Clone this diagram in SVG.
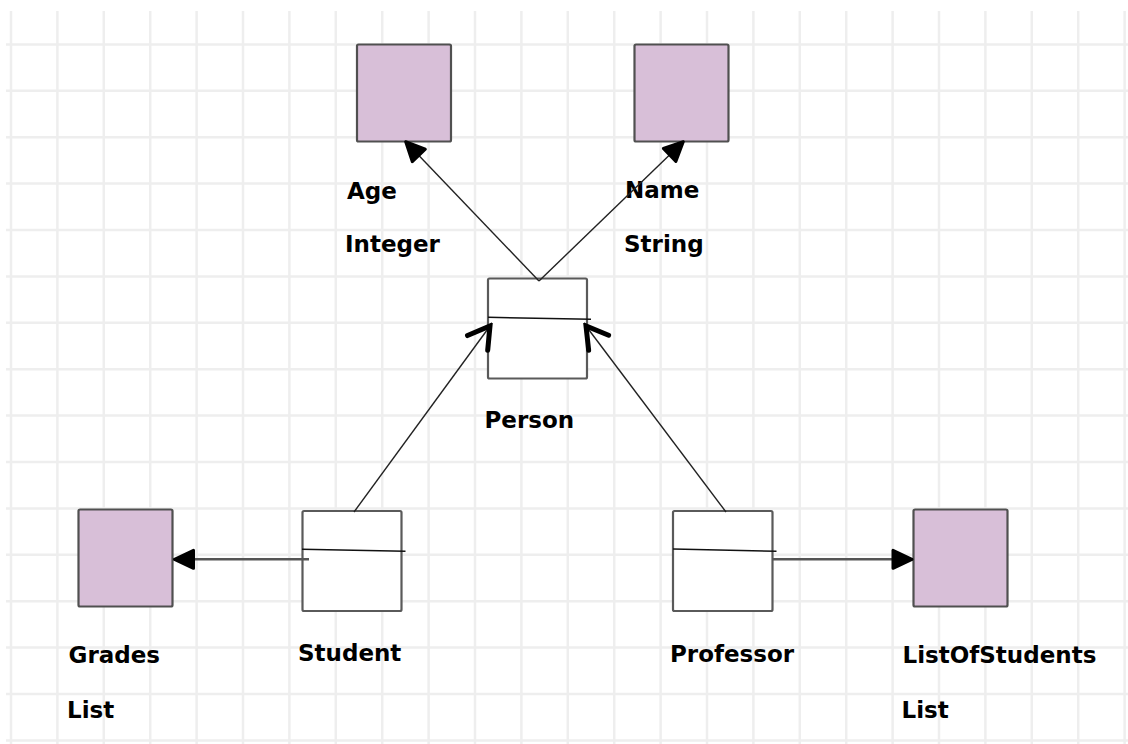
<svg xmlns="http://www.w3.org/2000/svg" width="1128" height="744" viewBox="0 0 1128 744">
<style>
.grid{stroke:#eeeeee;stroke-width:2.5;fill:none}
.attr{fill:#d8bfd8;stroke:#505050;stroke-width:2.2}
.cls{fill:#ffffff;stroke:#5a5a5a;stroke-width:2.2}
.sep{stroke:#111111;stroke-width:1.4;fill:none}
.lbl{font-family:"DejaVu Sans",Verdana,sans-serif;font-weight:bold;font-size:23px;fill:#000000}
.diag{stroke:#222222;stroke-width:1.4;fill:none}
.hor{stroke:#555555;stroke-width:2.6;fill:none}
</style>
<defs>
<marker id="filled" viewBox="-26 -14 30 28" markerWidth="30" markerHeight="28" refX="0" refY="0" markerUnits="userSpaceOnUse" orient="auto">
<path d="M-1,0 L-20,-9 L-20,9 Z" fill="#000" stroke="#000" stroke-width="3" stroke-linejoin="round"/>
</marker>
<marker id="open" viewBox="-28 -20 32 40" markerWidth="32" markerHeight="40" refX="0" refY="0" markerUnits="userSpaceOnUse" orient="auto">
<path d="M-21,-12.5 L0,0 L-21,12.5" fill="none" stroke="#000" stroke-width="5" stroke-linejoin="miter" stroke-linecap="round"/>
</marker>
</defs>
<rect width="1128" height="744" fill="#ffffff"/>
<path class="grid" d="M11 11V744M57.4 11V744M103.8 11V744M150.2 11V744M196.6 11V744M243 11V744M289.4 11V744M335.8 11V744M382.2 11V744M428.6 11V744M475 11V744M521.4 11V744M567.8 11V744M614.2 11V744M660.6 11V744M707 11V744M753.4 11V744M799.8 11V744M846.2 11V744M892.6 11V744M939 11V744M985.4 11V744M1031.8 11V744M1078.2 11V744M1124.6 11V744M6 44.4H1128M6 90.8H1128M6 137.2H1128M6 183.6H1128M6 230H1128M6 276.4H1128M6 322.8H1128M6 369.2H1128M6 415.6H1128M6 462H1128M6 508.4H1128M6 554.8H1128M6 601.2H1128M6 647.6H1128M6 694H1128M6 740.4H1128"/>
<g id="age">
<rect class="attr" x="357" y="44.5" width="94" height="97" rx="1.5"/>
<text class="lbl" x="347" y="199">Age</text>
<text class="lbl" x="345" y="252">Integer</text>
</g>
<g id="name">
<rect class="attr" x="634.5" y="44.5" width="94" height="97" rx="1.5"/>
<text class="lbl" x="625" y="198">Name</text>
<text class="lbl" x="624" y="252">String</text>
</g>
<g id="person">
<rect class="cls" x="488" y="278.5" width="99" height="100" rx="1.5"/>
<path class="sep" d="M488 317.3 L591 319.3"/>
<text class="lbl" x="484.5" y="428">Person</text>
</g>
<g id="grades">
<rect class="attr" x="78.5" y="509.5" width="94" height="97" rx="1.5"/>
<text class="lbl" x="68.5" y="663">Grades</text>
<text class="lbl" x="67" y="718">List</text>
</g>
<g id="student">
<rect class="cls" x="302.5" y="511" width="99" height="100" rx="1.5"/>
<path class="sep" d="M302 549.3 L405.5 551.3"/>
<text class="lbl" x="298" y="661">Student</text>
</g>
<g id="professor">
<rect class="cls" x="673" y="511" width="99.5" height="100" rx="1.5"/>
<path class="sep" d="M673 549 L776.5 551.3"/>
<text class="lbl" x="670" y="662">Professor</text>
</g>
<g id="listofstudents">
<rect class="attr" x="913.5" y="509.5" width="94" height="97" rx="1.5"/>
<text class="lbl" x="902.5" y="663">ListOfStudents</text>
<text class="lbl" x="901.5" y="718">List</text>
</g>
<g id="connectors">
<line class="diag" x1="539" y1="281" x2="405" y2="141" marker-end="url(#filled)"/>
<line class="diag" x1="539" y1="281" x2="684" y2="141" marker-end="url(#filled)"/>
<line class="diag" x1="354" y1="512" x2="490" y2="326" marker-end="url(#open)"/>
<line class="diag" x1="726" y1="512" x2="586" y2="326" marker-end="url(#open)"/>
<line class="hor" x1="309" y1="559.3" x2="173.5" y2="559.3" marker-end="url(#filled)"/>
<line class="hor" x1="772" y1="559.3" x2="913" y2="559.3" marker-end="url(#filled)"/>
</g>
</svg>
